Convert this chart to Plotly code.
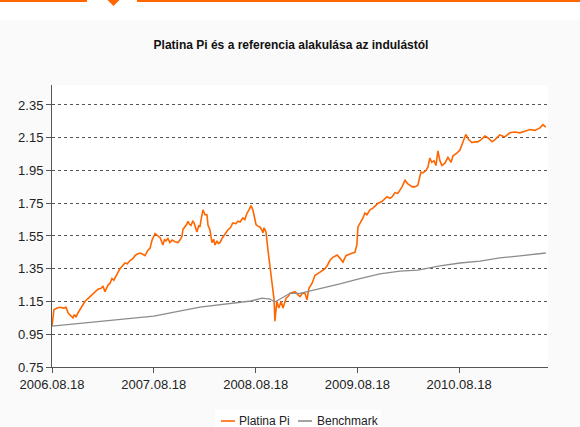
import plotly.graph_objects as go

# ---------------- data ----------------
platina_dates = [
    "2006-08-18", "2006-08-22", "2006-08-25", "2006-09-05", "2006-09-16", "2006-09-28", "2006-10-07",
    "2006-10-15", "2006-10-22", "2006-11-01", "2006-11-06", "2006-11-12", "2006-11-19", "2006-11-26",
    "2006-12-05", "2006-12-14", "2006-12-23", "2007-01-01", "2007-01-10", "2007-01-19", "2007-01-30",
    "2007-02-10", "2007-02-17", "2007-02-24", "2007-03-07", "2007-03-14", "2007-03-21", "2007-03-28",
    "2007-04-05", "2007-04-12", "2007-04-19", "2007-04-28", "2007-05-07", "2007-05-15", "2007-05-25",
    "2007-06-03", "2007-06-12", "2007-06-20", "2007-06-30", "2007-07-08", "2007-07-18", "2007-07-27",
    "2007-08-05", "2007-08-12", "2007-08-23", "2007-09-02", "2007-09-10", "2007-09-20", "2007-09-26",
    "2007-10-01", "2007-10-08", "2007-10-15", "2007-10-23", "2007-11-02", "2007-11-13", "2007-11-22",
    "2007-11-27", "2007-12-01", "2007-12-08", "2007-12-14", "2007-12-19", "2007-12-25", "2007-12-30",
    "2008-01-05", "2008-01-10", "2008-01-15", "2008-01-20", "2008-01-27", "2008-01-31", "2008-02-04",
    "2008-02-11", "2008-02-18", "2008-02-25", "2008-02-29", "2008-03-07", "2008-03-14", "2008-03-20",
    "2008-03-25", "2008-04-01", "2008-04-06", "2008-04-12", "2008-04-19", "2008-04-26", "2008-05-03",
    "2008-05-10", "2008-05-19", "2008-05-28", "2008-06-08", "2008-06-15", "2008-06-23", "2008-07-03",
    "2008-07-10", "2008-07-18", "2008-07-25", "2008-08-01", "2008-08-08", "2008-08-14", "2008-08-19",
    "2008-08-26", "2008-09-02", "2008-09-08", "2008-09-13", "2008-09-17", "2008-09-24", "2008-10-01",
    "2008-10-08", "2008-10-12", "2008-10-15", "2008-10-19", "2008-10-23", "2008-10-26", "2008-10-29",
    "2008-11-02", "2008-11-09", "2008-11-17", "2008-11-24", "2008-12-05", "2008-12-12", "2008-12-19",
    "2008-12-28", "2009-01-06", "2009-01-17", "2009-01-24", "2009-02-02", "2009-02-11", "2009-02-18",
    "2009-02-25", "2009-03-08", "2009-03-19", "2009-03-29", "2009-04-13", "2009-04-24", "2009-05-02",
    "2009-05-11", "2009-05-22", "2009-06-06", "2009-06-16", "2009-06-27", "2009-07-08", "2009-07-20",
    "2009-07-29", "2009-08-09", "2009-08-16", "2009-08-20", "2009-08-31", "2009-09-07", "2009-09-14",
    "2009-09-21", "2009-10-02", "2009-10-13", "2009-10-22", "2009-10-31", "2009-11-14", "2009-11-23",
    "2009-12-02", "2009-12-13", "2009-12-21", "2009-12-31", "2010-01-10", "2010-01-25", "2010-02-05",
    "2010-02-14", "2010-02-23", "2010-03-03", "2010-03-12", "2010-03-23", "2010-04-03", "2010-04-10",
    "2010-04-21", "2010-04-28", "2010-05-05", "2010-05-12", "2010-05-20", "2010-05-27", "2010-06-03",
    "2010-06-10", "2010-06-17", "2010-06-28", "2010-07-09", "2010-07-20", "2010-07-27", "2010-08-10",
    "2010-08-21", "2010-09-01", "2010-09-11", "2010-09-22", "2010-10-03", "2010-10-14", "2010-10-24",
    "2010-11-04", "2010-11-19", "2010-11-29", "2010-12-14", "2010-12-24", "2011-01-11", "2011-01-29",
    "2011-02-16", "2011-03-06", "2011-03-24", "2011-04-11", "2011-04-29", "2011-05-17", "2011-06-04",
    "2011-06-15", "2011-06-25",
]
platina_values = [
    1.00, 1.08, 1.10, 1.11, 1.115, 1.11, 1.115,
    1.08, 1.065, 1.05, 1.07, 1.055, 1.08, 1.10,
    1.12, 1.15, 1.165, 1.18, 1.19, 1.21, 1.225,
    1.23, 1.245, 1.21, 1.25, 1.26, 1.29, 1.28,
    1.31, 1.33, 1.35, 1.37, 1.385, 1.38, 1.40,
    1.41, 1.43, 1.44, 1.446, 1.44, 1.43, 1.46,
    1.476, 1.525, 1.565, 1.55, 1.54, 1.495, 1.53,
    1.52, 1.535, 1.51, 1.525, 1.515, 1.51, 1.53,
    1.545, 1.59, 1.605, 1.62, 1.64, 1.62, 1.615,
    1.64, 1.63, 1.60, 1.575, 1.615, 1.605, 1.65,
    1.71, 1.68, 1.68, 1.615, 1.585, 1.51, 1.53,
    1.495, 1.52, 1.505, 1.51, 1.535, 1.555, 1.57,
    1.587, 1.60, 1.63, 1.625, 1.64, 1.635, 1.66,
    1.65, 1.69, 1.71, 1.735, 1.71, 1.66, 1.62,
    1.61, 1.605, 1.59, 1.57, 1.60, 1.575, 1.465,
    1.36, 1.31, 1.28, 1.20, 1.16, 1.03, 1.10,
    1.15, 1.11, 1.15, 1.11, 1.17, 1.18, 1.20,
    1.205, 1.21, 1.19, 1.18, 1.20, 1.20, 1.16,
    1.23, 1.26, 1.31, 1.32, 1.34, 1.35, 1.37,
    1.40, 1.42, 1.434, 1.415, 1.39, 1.43, 1.44,
    1.445, 1.45, 1.495, 1.605, 1.635, 1.66, 1.69,
    1.68, 1.71, 1.72, 1.735, 1.75, 1.76, 1.775,
    1.79, 1.78, 1.79, 1.815, 1.81, 1.85, 1.89,
    1.87, 1.86, 1.85, 1.85, 1.86, 1.94, 1.935,
    1.95, 1.97, 2.026, 2.00, 2.01, 1.98, 2.07,
    2.01, 1.98, 1.995, 2.03, 2.00, 2.04, 2.056,
    2.075, 2.12, 2.17, 2.137, 2.12, 2.125, 2.125,
    2.137, 2.16, 2.15, 2.125, 2.137, 2.167, 2.155,
    2.18, 2.185, 2.18, 2.19, 2.20, 2.195, 2.21,
    2.23, 2.215,
]

bench_dates = [
    "2006-08-18", "2006-10-22", "2007-08-18", "2008-01-31", "2008-05-19", "2008-08-01",
    "2008-09-09", "2008-10-08", "2008-10-26", "2008-11-13", "2008-12-19", "2009-01-24",
    "2009-03-01", "2009-04-06", "2009-06-16", "2009-08-27", "2009-11-07", "2010-01-18",
    "2010-03-23", "2010-06-10", "2010-08-21", "2010-11-01", "2011-01-11", "2011-03-24",
    "2011-06-25",
]
bench_values = [
    1.00, 1.01, 1.06, 1.116, 1.14, 1.153,
    1.17, 1.165, 1.147, 1.165, 1.20, 1.20,
    1.214, 1.232, 1.257, 1.29, 1.318, 1.336,
    1.342, 1.367, 1.385, 1.397, 1.416, 1.428,
    1.446,
]

y_ticks = [0.75, 0.95, 1.15, 1.35, 1.55, 1.75, 1.95, 2.15, 2.35]
x_tick_dates = ["2006-08-18", "2007-08-18", "2008-08-18", "2009-08-18", "2010-08-18"]
x_tick_labels = ["2006.08.18", "2007.08.18", "2008.08.18", "2009.08.18", "2010.08.18"]

title_text = "Platina Pi és a referencia alakulása az indulástól"
series_names = ["Platina Pi", "Benchmark"]

# ---------------- figure ----------------
FONT = "Liberation Sans, Arial, sans-serif"
ORANGE = "#FF6600"
GREY = "#8C8C8C"
series_colors = [ORANGE, GREY]

fig = go.Figure()
fig.add_trace(go.Scatter(x=platina_dates, y=platina_values, mode="lines", name=series_names[0],
                         line=dict(color=ORANGE, width=1.6), showlegend=False))
fig.add_trace(go.Scatter(x=bench_dates, y=bench_values, mode="lines", name=series_names[1],
                         line=dict(color=GREY, width=1.3), showlegend=False))

# paper-coordinate helpers for the decoration (plot area: x 52..548, y 85..367 px)
def px(x):
    return (x - 52) / 496.0

def py(y):
    return (367 - y) / 282.0

shapes = [
    # white strip above the chart box
    dict(type="rect", xref="paper", yref="paper", x0=px(-5), x1=px(590), y0=py(20), y1=py(-5),
         fillcolor="white", line=dict(width=0), layer="below"),
    # orange header rule with a gap and a small downward marker
    dict(type="rect", xref="paper", yref="paper", x0=px(-5), x1=px(87), y0=py(2), y1=py(-1),
         fillcolor=ORANGE, line=dict(width=0)),
    dict(type="rect", xref="paper", yref="paper", x0=px(137), x1=px(590), y0=py(2), y1=py(-1),
         fillcolor=ORANGE, line=dict(width=0)),
    dict(type="path", xref="paper", yref="paper",
         path=f"M {px(107.5)},{py(0)} L {px(119.5)},{py(0)} L {px(113.5)},{py(6)} Z",
         fillcolor=ORANGE, line=dict(width=0)),
    # legend box
    dict(type="rect", xref="paper", yref="paper", x0=px(215), x1=px(381), y0=py(430), y1=py(410),
         fillcolor="white", line=dict(width=0)),
]

annotations = []
legend_line_x = [(221, 235), (298, 312)]
legend_text_x = [238, 316]
for name, color, (lx0, lx1), tx in zip(series_names, series_colors, legend_line_x, legend_text_x):
    shapes.append(dict(type="line", xref="paper", yref="paper", x0=px(lx0), x1=px(lx1),
                       y0=py(421), y1=py(421), line=dict(color=color, width=1.6)))
    annotations.append(dict(text=name, xref="paper", yref="paper", x=px(tx), y=py(421),
                            xanchor="left", yanchor="middle", showarrow=False, borderpad=0,
                            font=dict(family=FONT, size=12, color="#222222")))

fig.update_layout(
    width=580, height=427, autosize=False,
    margin=dict(l=52, r=32, t=85, b=60, autoexpand=False),
    paper_bgcolor="#FAFAFA", plot_bgcolor="white",
    font=dict(family=FONT, size=13, color="#222222"),
    title=dict(text=f"<b>{title_text}</b>", x=291 / 580, xref="container", xanchor="center",
               y=1 - 45 / 427, yref="container", yanchor="middle",
               font=dict(family=FONT, size=12, color="#111111")),
    showlegend=False,
    hovermode=False,
    shapes=shapes,
    annotations=annotations,
)

fig.update_xaxes(
    type="date", range=["2006-08-18", "2011-07-03"],
    tickmode="array", tickvals=x_tick_dates, ticktext=x_tick_labels,
    ticks="outside", ticklen=5, tickcolor="#555555", tickwidth=1,
    showline=True, linecolor="#555555", linewidth=1,
    showgrid=False, zeroline=False,
    tickfont=dict(family=FONT, size=13, color="#222222"),
)
fig.update_yaxes(
    range=[0.75, 2.472],
    tickmode="array", tickvals=y_ticks, ticktext=[f"{v:.2f}" for v in y_ticks],
    ticks="outside", ticklen=5, tickcolor="#555555", tickwidth=1,
    showline=True, linecolor="#555555", linewidth=1,
    showgrid=True, gridcolor="#555555", gridwidth=1, griddash="dot",
    zeroline=False,
    tickfont=dict(family=FONT, size=13, color="#222222"),
)

fig.write_html("out.html", config={"displayModeBar": False},
               post_script="document.body.style.margin='0';document.body.style.padding='0';")
